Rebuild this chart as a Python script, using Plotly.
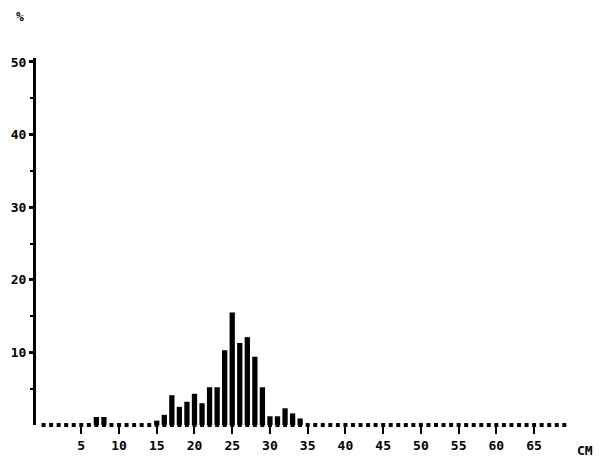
import plotly.graph_objects as go

# Length classes (cm) and percentage frequencies
lengths_cm = list(range(0, 70))
nonzero = {
    7: 1.1, 8: 1.1,
    15: 0.6, 16: 1.4, 17: 4.1, 18: 2.5, 19: 3.2, 20: 4.3, 21: 3.0,
    22: 5.2, 23: 5.2, 24: 10.3, 25: 15.5, 26: 11.3, 27: 12.1, 28: 9.4,
    29: 5.2, 30: 1.2, 31: 1.2, 32: 2.3, 33: 1.6, 34: 0.9,
}
percent = [nonzero.get(c, 0.0) for c in lengths_cm]

x_tick_vals = [5, 10, 15, 20, 25, 30, 35, 40, 45, 50, 55, 60, 65]
y_tick_vals = [10, 20, 30, 40, 50]

FONT = "DejaVu Sans Mono"
W, H = 599, 470
ML, MR, MT, MB = 36, 0, 58, 45
TXT = dict(family=FONT, size=13, color="black", weight="bold")

fig = go.Figure()
fig.add_trace(go.Bar(
    x=lengths_cm, y=percent,
    marker=dict(color="black", line=dict(width=0)),
    width=0.7,
    cliponaxis=False,
    showlegend=False,
))
# baseline marks drawn at every length class
fig.add_trace(go.Scatter(
    x=lengths_cm, y=[0] * len(lengths_cm),
    mode="markers",
    marker=dict(symbol="square", size=4, color="black"),
    cliponaxis=False,
    showlegend=False,
))


def px_to_paper(px, py):
    return (px - ML) / (W - ML - MR), (H - MB - py) / (H - MT - MB)


pct_x, pct_y = px_to_paper(20, 16)
cm_x, cm_y = px_to_paper(585, 450)

fig.update_layout(
    width=W, height=H,
    margin=dict(l=ML, r=MR, t=MT, b=MB, autoexpand=False),
    paper_bgcolor="white", plot_bgcolor="white",
    font=dict(family=FONT, size=12, color="black"),
    xaxis=dict(
        range=[-1, 73.6],
        tickmode="array", tickvals=x_tick_vals,
        ticktext=[str(v) for v in x_tick_vals],
        ticks="outside", ticklen=8, tickwidth=2, tickcolor="black",
        showline=False, showgrid=False, zeroline=False,
        automargin=False,
        tickfont=TXT,
    ),
    yaxis=dict(
        range=[0, 50.55],
        tickmode="array", tickvals=y_tick_vals,
        ticktext=[str(v) for v in y_tick_vals],
        ticks="outside", ticklen=4, tickwidth=3, tickcolor="black",
        minor=dict(tickvals=[5, 15, 25, 35, 45], ticks="outside",
                   ticklen=3, tickwidth=2, tickcolor="black"),
        showline=True, linecolor="black", linewidth=3,
        showgrid=False, zeroline=False,
        automargin=False,
        tickfont=TXT,
    ),
    annotations=[
        dict(text="%", x=pct_x, y=pct_y, xref="paper", yref="paper",
             xanchor="center", yanchor="middle", showarrow=False, font=TXT),
        dict(text="CM", x=cm_x, y=cm_y, xref="paper", yref="paper",
             xanchor="center", yanchor="middle", showarrow=False, font=TXT),
    ],
)

fig.write_html("out.html", config={"displayModeBar": False})

# remove the browser's default page margin so the figure sits at (0, 0)
with open("out.html", "r", encoding="utf-8") as f:
    html = f.read()
html = html.replace("<body>", '<body style="margin:0;padding:0;overflow:hidden">', 1)
with open("out.html", "w", encoding="utf-8") as f:
    f.write(html)
